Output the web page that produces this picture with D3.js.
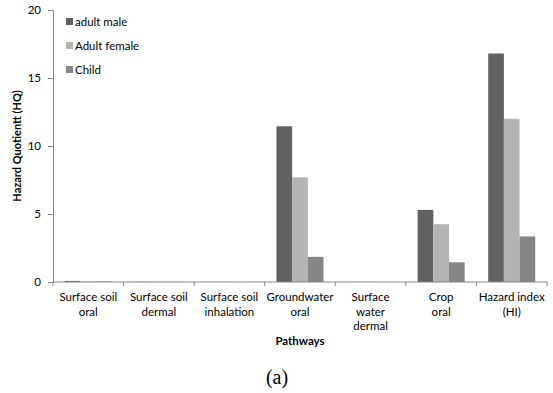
<!DOCTYPE html>
<html>
<head>
<meta charset="utf-8">
<script src="https://cdn.jsdelivr.net/npm/d3@7"></script>
<style>
  body { margin: 0; background: #fff; }
  text { font-family: Lato, "Open Sans", sans-serif; }
</style>
</head>
<body>
<script>
// Size of the picture and the plot area inside it
const w = 553;
const h = 393;
const margin = { top: 10, right: 6, bottom: 111, left: 53 };

// Data
const pathways = [
  ["Surface soil", "oral"],
  ["Surface soil", "dermal"],
  ["Surface soil", "inhalation"],
  ["Groundwater", "oral"],
  ["Surface", "water", "dermal"],
  ["Crop", "oral"],
  ["Hazard index", "(HI)"],
];
const groups = ["adult male", "Adult female", "Child"];
const adultMale = [0.08, 0.02, 0, 11.45, 0, 5.3, 16.8];
const adultFemale = [0.04, 0.01, 0, 7.7, 0, 4.25, 12.0];
const child = [0.03, 0.01, 0, 1.85, 0, 1.45, 3.35];
const yTicks = [0, 5, 10, 15, 20];

const series = [adultMale, adultFemale, child];
const colors = ["#616161", "#b3b3b3", "#858585"];

const svg = d3.select("body").append("svg").attr("width", w).attr("height", h);

const x = d3
  .scaleBand()
  .domain(d3.range(pathways.length))
  .range([margin.left, w - margin.right]);

const xInner = d3
  .scaleBand()
  .domain(d3.range(groups.length))
  .range([0, x.bandwidth()])
  .paddingOuter(0.75);

const y = d3
  .scaleLinear()
  .domain([0, 20])
  .range([h - margin.bottom, margin.top]);

// Bars
series.forEach(function (vals, s) {
  svg
    .append("g")
    .selectAll("rect")
    .data(vals)
    .enter()
    .append("rect")
    .attr("x", function (d, i) {
      return x(i) + xInner(s);
    })
    .attr("y", function (d) {
      return y(d);
    })
    .attr("width", xInner.bandwidth())
    .attr("height", function (d) {
      return y(0) - y(d);
    })
    .attr("fill", colors[s]);
});

// Y axis
const yAxis = svg
  .append("g")
  .attr("transform", "translate(" + margin.left + ",0)")
  .call(d3.axisLeft(y).tickValues(yTicks).tickSize(5).tickPadding(7));
yAxis.select(".domain").attr("stroke", "#868686");
yAxis.selectAll(".tick line").attr("stroke", "#868686");
yAxis
  .selectAll(".tick text")
  .attr("font-size", 11.5)
  .attr("fill", "#000")
  .style("font-family", "Lato, sans-serif");

// X axis, ticks on band edges
const xAxisG = svg
  .append("g")
  .attr("transform", "translate(0," + y(0) + ")");
xAxisG
  .append("line")
  .attr("x1", margin.left)
  .attr("x2", w - margin.right)
  .attr("stroke", "#868686");
xAxisG
  .selectAll("line.tk")
  .data(d3.range(pathways.length + 1))
  .enter()
  .append("line")
  .attr("class", "tk")
  .attr("x1", function (i) {
    return margin.left + i * x.step();
  })
  .attr("x2", function (i) {
    return margin.left + i * x.step();
  })
  .attr("y1", 0)
  .attr("y2", 4)
  .attr("stroke", "#868686");

const labels = xAxisG
  .selectAll("text.cat")
  .data(pathways)
  .enter()
  .append("text")
  .attr("class", "cat")
  .attr("text-anchor", "middle")
  .attr("font-size", 11.5)
  .attr("x", function (d, i) {
    return x(i) + x.bandwidth() / 2;
  })
  .attr("y", 19);
labels
  .selectAll("tspan")
  .data(function (d) {
    return d;
  })
  .enter()
  .append("tspan")
  .attr("x", function () {
    return d3.select(this.parentNode).attr("x");
  })
  .attr("dy", function (d, i) {
    return i === 0 ? 0 : 14.5;
  })
  .text(function (d) {
    return d;
  });

// Axis titles
svg
  .append("text")
  .attr("x", margin.left + (w - margin.right - margin.left) / 2)
  .attr("y", 345)
  .attr("text-anchor", "middle")
  .attr("font-size", 11.5)
  .attr("font-weight", "bold")
  .text("Pathways");

svg
  .append("text")
  .attr("transform", "translate(21," + (margin.top + (h - margin.bottom - margin.top) / 2) + ") rotate(-90)")
  .attr("text-anchor", "middle")
  .attr("font-size", 11)
  .attr("font-weight", "bold")
  .text("Hazard Quotientt (HQ)");

// Legend
const legend = svg
  .selectAll("g.leg")
  .data(groups)
  .enter()
  .append("g")
  .attr("class", "leg")
  .attr("transform", function (d, i) {
    return "translate(66," + (22 + i * 24) + ")";
  });
legend
  .append("rect")
  .attr("x", 0)
  .attr("y", -4)
  .attr("width", 7)
  .attr("height", 7)
  .attr("fill", function (d, i) {
    return colors[i];
  });
legend
  .append("text")
  .attr("x", 9)
  .attr("y", 4)
  .attr("font-size", 11.5)
  .text(function (d) {
    return d;
  });

// Panel caption
svg
  .append("text")
  .attr("x", 277)
  .attr("y", 384)
  .attr("text-anchor", "middle")
  .attr("font-size", 20)
  .style("font-family", "'Liberation Serif', 'DejaVu Serif', serif")
  .text("(a)");
</script>
</body>
</html>
